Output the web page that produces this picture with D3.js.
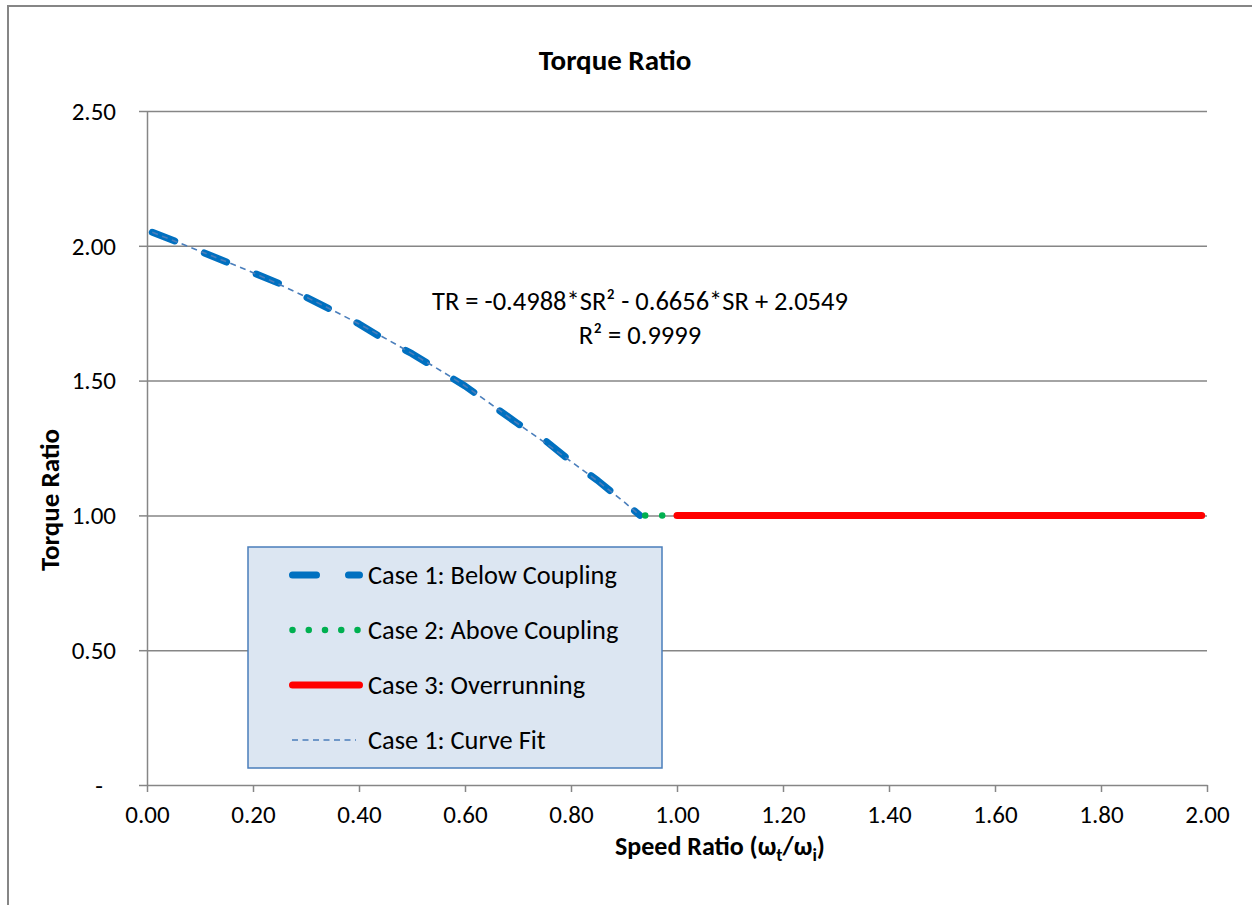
<!DOCTYPE html>
<html>
<head>
<meta charset="utf-8">
<script src="https://cdn.jsdelivr.net/npm/d3@7"></script>
<style>
  body { margin: 0; background: #fff; }
  svg { display: block; font-family: Carlito, Calibri, Lato, sans-serif; }
</style>
</head>
<body>
<svg id="chart" width="1252" height="905"></svg>
<script>
// Case 1: below coupling
const case1SR = [0.01, 0.05, 0.10, 0.15, 0.20, 0.25, 0.30, 0.35, 0.40, 0.45, 0.50, 0.55, 0.60, 0.65, 0.70, 0.75, 0.80, 0.85, 0.90, 0.93];
const case1TR = [2.05, 2.02, 1.98, 1.94, 1.90, 1.86, 1.81, 1.76, 1.71, 1.65, 1.60, 1.54, 1.48, 1.41, 1.34, 1.28, 1.20, 1.13, 1.05, 1.00];
// Case 2: above coupling
const case2SR = [0.94, 0.96, 0.98, 1.00];
const case2TR = [1.00, 1.00, 1.00, 1.00];
// Case 3: overrunning
const case3SR = [1.00, 1.25, 1.50, 1.75, 1.99];
const case3TR = [1.00, 1.00, 1.00, 1.00, 1.00];
// polynomial trendline of case 1
const fitSR = [0.01, 0.10, 0.20, 0.30, 0.40, 0.50, 0.60, 0.70, 0.80, 0.90, 0.93];
const fitTR = [2.05, 1.98, 1.90, 1.81, 1.71, 1.60, 1.48, 1.34, 1.20, 1.05, 1.00];

const xTicks = [0, 0.2, 0.4, 0.6, 0.8, 1.0, 1.2, 1.4, 1.6, 1.8, 2.0];
const yTicks = [0, 0.5, 1.0, 1.5, 2.0, 2.5];

const legendLabels = ['Case 1: Below Coupling', 'Case 2: Above Coupling', 'Case 3: Overrunning', 'Case 1: Curve Fit'];
const equationLines = ['TR = -0.4988*SR² - 0.6656*SR + 2.0549', 'R² = 0.9999'];

const gray = '#868686';
const svg = d3.select('#chart');

// chart area border (runs off the right and bottom of the picture)
svg.append('rect')
  .attr('x', 8).attr('y', 6)
  .attr('width', 1300).attr('height', 960)
  .attr('fill', '#fff')
  .attr('stroke', gray).attr('stroke-width', 2);

const x = d3.scaleLinear().domain([0, 2]).range([147, 1207]);
const y = d3.scaleLinear().domain([0, 2.5]).range([785, 111]);

// gridlines
svg.append('g')
  .attr('transform', 'translate(147,0)')
  .call(d3.axisLeft(y).tickValues(yTicks.slice(1)).tickSize(-1060).tickFormat(''))
  .call(g => g.select('.domain').remove())
  .selectAll('line').attr('stroke', gray).attr('stroke-width', 1.5);

// x axis
const xAxis = svg.append('g')
  .attr('transform', 'translate(0,785)')
  .call(d3.axisBottom(x).tickValues(xTicks).tickSize(7).tickSizeOuter(0).tickFormat(d3.format('.2f')))
  .attr('font-family', null).attr('font-size', 25);
xAxis.select('.domain').attr('stroke', gray).attr('stroke-width', 1.5);
xAxis.selectAll('line').attr('stroke', gray).attr('stroke-width', 1.5);
xAxis.selectAll('text')
  .attr('y', 38).attr('dy', 0)
  .attr('fill', '#000');

// y axis
const yAxis = svg.append('g')
  .attr('transform', 'translate(147,0)')
  .call(d3.axisLeft(y).tickValues(yTicks).tickSize(8).tickSizeOuter(0)
    .tickFormat(d => d === 0 ? '-' : d3.format('.2f')(d)))
  .attr('font-family', null).attr('font-size', 25);
yAxis.select('.domain').attr('stroke', gray).attr('stroke-width', 1.5);
yAxis.selectAll('line').attr('stroke', gray).attr('stroke-width', 1.5);
yAxis.selectAll('text')
  .attr('x', d => d === 0 ? -44 : -31).attr('dy', '0.33em')
  .attr('fill', '#000');

const line = d3.line().x(d => x(d[0])).y(d => y(d[1]));
const smooth = d3.line().x(d => x(d[0])).y(d => y(d[1])).curve(d3.curveMonotoneX);

const styles = [
  { color: '#0070c0', width: 7, dash: '24,32', cap: 'round' },
  { color: '#00b050', width: 6.5, dash: '0,17', cap: 'round' },
  { color: '#ff0000', width: 7, dash: null, cap: 'round' },
  { color: '#4a7ebb', width: 1.6, dash: '6,4.5', cap: 'butt' }
];

const seriesData = [
  d3.zip(case1SR, case1TR),
  d3.zip(case2SR, case2TR),
  d3.zip(case3SR, case3TR)
];

seriesData.forEach((pts, i) => {
  const s = styles[i];
  svg.append('path')
    .datum(pts)
    .attr('d', line)
    .attr('fill', 'none')
    .attr('stroke', s.color)
    .attr('stroke-width', s.width)
    .attr('stroke-dasharray', s.dash)
    .attr('stroke-linecap', s.cap)
    .attr('stroke-linejoin', 'round');
});

// trendline on top
svg.append('path')
  .datum(d3.zip(fitSR, fitTR))
  .attr('d', smooth)
  .attr('fill', 'none')
  .attr('stroke', styles[3].color)
  .attr('stroke-width', styles[3].width)
  .attr('stroke-dasharray', styles[3].dash);

// trendline equation
svg.append('text')
  .attr('x', 640).attr('y', 310)
  .attr('text-anchor', 'middle')
  .attr('font-size', 26.5)
  .selectAll('tspan')
  .data(equationLines)
  .join('tspan')
  .attr('x', 640)
  .attr('dy', (d, i) => i ? 34 : 0)
  .text(d => d);

// title
svg.append('text')
  .attr('x', 615).attr('y', 70)
  .attr('text-anchor', 'middle')
  .attr('font-size', 29).attr('font-weight', 'bold')
  .text('Torque Ratio');

// axis titles
svg.append('text')
  .attr('transform', 'translate(59,500) rotate(-90)')
  .attr('text-anchor', 'middle')
  .attr('font-size', 27).attr('font-weight', 'bold')
  .text('Torque Ratio');

const xTitle = svg.append('text')
  .attr('x', 720).attr('y', 855)
  .attr('text-anchor', 'middle')
  .attr('font-size', 26).attr('font-weight', 'bold');
xTitle.append('tspan').text('Speed Ratio (ω');
xTitle.append('tspan').attr('font-size', 18).attr('dy', 6).text('t');
xTitle.append('tspan').attr('dy', -6).text('/ω');
xTitle.append('tspan').attr('font-size', 18).attr('dy', 6).text('i');
xTitle.append('tspan').attr('dy', -6).text(')');

// legend
const legend = svg.append('g');
legend.append('rect')
  .attr('x', 248).attr('y', 547)
  .attr('width', 414).attr('height', 221)
  .attr('fill', '#dce6f2')
  .attr('stroke', '#4a7ebb').attr('stroke-width', 1.5);

const rows = legend.selectAll('g.row')
  .data(legendLabels)
  .join('g')
  .attr('class', 'row')
  .attr('transform', (d, i) => `translate(0,${575 + i * 55})`);

rows.append('line')
  .attr('x1', (d, i) => i === 3 ? 292 : 292.5)
  .attr('x2', (d, i) => i === 3 ? 356 : 359.5)
  .attr('stroke', (d, i) => styles[i].color)
  .attr('stroke-width', (d, i) => styles[i].width)
  .attr('stroke-dasharray', (d, i) => i === 1 ? '0,16.25' : styles[i].dash)
  .attr('stroke-linecap', (d, i) => styles[i].cap);

rows.append('text')
  .attr('x', 368).attr('dy', '0.35em')
  .attr('font-size', 26.4)
  .text(d => d);
</script>
</body>
</html>
